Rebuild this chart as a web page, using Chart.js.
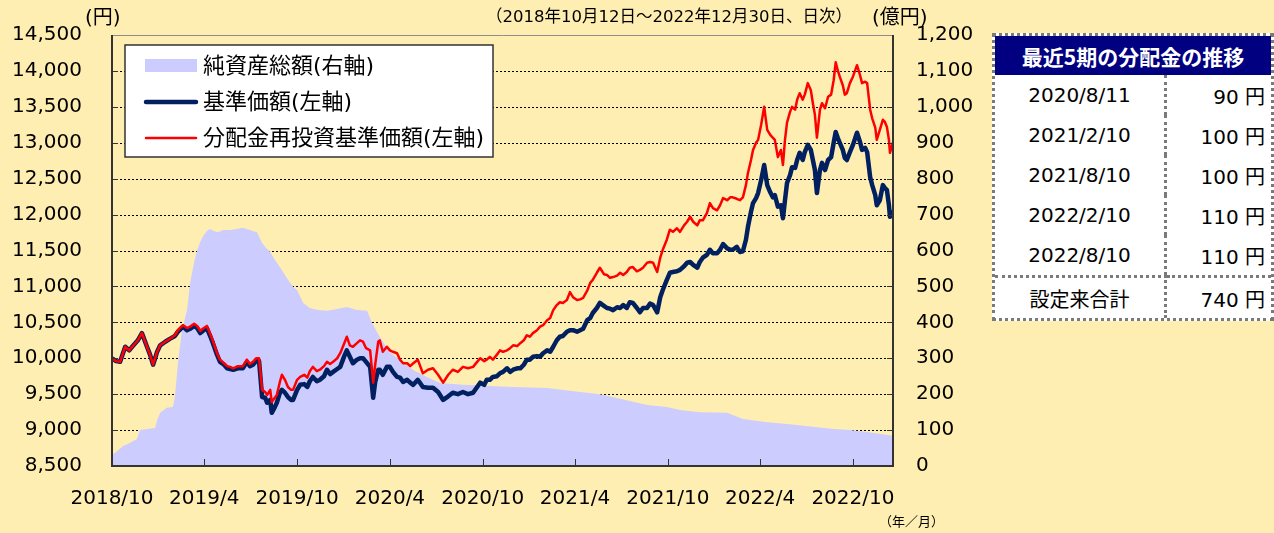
<!DOCTYPE html>
<html lang="ja">
<head>
<meta charset="utf-8">
<script src="https://cdn.jsdelivr.net/npm/chart.js@4.4.1/dist/chart.umd.min.js"></script>
<style>
  html, body { margin: 0; padding: 0; }
  body {
    width: 1274px; height: 533px; position: relative; overflow: hidden;
    background: #FFEEB2;
    font-family: 'DejaVu Sans', 'Noto Sans CJK JP', sans-serif;
    color: #000;
  }
  #chart { position: absolute; left: 0; top: 0; }
  .note { position: absolute; white-space: nowrap; line-height: 1; }
  #dist {
    position: absolute; left: 992px; top: 33px; width: 282px;
    border-collapse: separate; border-spacing: 0; table-layout: fixed;
    border: 3px dotted #7a7a7a; background: #fff;
  }
  #dist th {
    height: 39px; padding: 0; background: #000080; color: #fff;
    font: bold 21px 'Noto Sans CJK JP', sans-serif;
  }
  #dist td { height: 40px; padding: 0; font-size: 20px; }
  #dist td.d { text-align: center; border-right: 3px dotted #7a7a7a; }
  #dist td.v { text-align: right; padding-right: 6px; }
  #dist tr.total td { border-top: 3px dotted #7a7a7a; }
</style>
</head>
<body>
<canvas id="chart" width="1274" height="533"></canvas>
<div class="note" style="left:85px; top:7px; font-size:20px;">(円)</div>
<div class="note" style="left:872px; top:7px; font-size:20px;">(億円)</div>
<div class="note" style="left:486px; top:9px; font-size:16.5px;">（2018年10月12日～2022年12月30日、日次）</div>
<div class="note" style="left:879px; top:514px; font-size:13px; font-family:'Noto Sans CJK JP';">（年／月）</div>
<table id="dist">
  <colgroup><col style="width:172px"><col style="width:104px"></colgroup>
  <thead><tr><th colspan="2">最近5期の分配金の推移</th></tr></thead>
  <tbody id="dist-rows"></tbody>
</table>
<script>
// x positions are calendar days since the launch date 2018/10/12
const launch = Date.UTC(2018, 9, 12)
const dayMs = 86400000
const lastDay = Math.round((Date.UTC(2022, 11, 30) - launch) / dayMs)

// x axis tick labels (every 6 months from the launch day)
const tickLabels = ['2018/10', '2019/4', '2019/10', '2020/4', '2020/10', '2021/4', '2021/10', '2022/4', '2022/10']
const tickDays = tickLabels.map(s => {
  const [y, m] = s.split('/').map(Number)
  return Math.round((Date.UTC(y, m - 1, 12) - launch) / dayMs)
})

// price series (円, left axis)
const priceDays = [
  0, 8, 16, 26, 34, 41, 51, 59, 69, 75,
  81, 89, 95, 105, 114, 124, 130, 140, 148, 154,
  162, 168, 174, 179, 187, 193, 199, 207, 213, 221,
  227, 233, 239, 248, 258, 266, 272, 278, 284, 290,
  296, 302, 306, 312, 315, 321, 325, 331, 335, 341,
  347, 353, 357, 365, 371, 379, 385, 390, 396, 404,
  410, 418, 424, 430, 436, 444, 450, 458, 463, 469,
  475, 483, 489, 495, 501, 509, 515, 519, 525, 528,
  534, 542, 548, 554, 562, 568, 574, 582, 588, 594,
  603, 613, 623, 633, 643, 653, 663, 672, 682, 692,
  702, 712, 720, 726, 734, 739, 745, 751, 759, 765,
  771, 779, 785, 791, 799, 805, 812, 818, 824, 830,
  838, 844, 850, 858, 864, 870, 877, 883, 889, 897,
  903, 909, 917, 923, 929, 937, 943, 948, 956, 962,
  970, 976, 982, 988, 996, 1002, 1008, 1015, 1021, 1027,
  1035, 1041, 1047, 1055, 1061, 1067, 1075, 1081, 1086, 1094,
  1100, 1106, 1114, 1120, 1128, 1134, 1140, 1146, 1154, 1159,
  1165, 1173, 1179, 1185, 1193, 1199, 1205, 1213, 1219, 1224,
  1232, 1238, 1244, 1250, 1254, 1260, 1264, 1270, 1274, 1280,
  1286, 1292, 1298, 1303, 1307, 1313, 1319, 1323, 1327, 1331,
  1337, 1341, 1347, 1351, 1356, 1362, 1366, 1372, 1378, 1382,
  1386, 1390, 1396, 1400, 1406, 1412, 1418, 1423, 1427, 1431,
  1435, 1441, 1445, 1449, 1455, 1461, 1469, 1475, 1479, 1485,
  1489, 1495, 1499, 1505, 1508, 1514, 1520, 1524, 1528, 1532, 1534, 1540
]
// 基準価額
const navPrice = [
  10000, 9960, 9950, 10160, 10110, 10170, 10250, 10350, 10160, 10050,
  9910, 10090, 10180, 10230, 10270, 10310, 10370, 10440, 10390, 10410,
  10450, 10420, 10350, 10380, 10420, 10320, 10210, 10050, 9950, 9910,
  9860, 9850, 9840, 9860, 9860, 9950, 9890, 9910, 9960, 9960,
  9460, 9450, 9380, 9420, 9240, 9320, 9380, 9520, 9560, 9520,
  9460, 9420, 9420, 9560, 9630, 9640, 9600, 9680, 9740, 9680,
  9700, 9750, 9840, 9780, 9810, 9850, 9880, 10030, 10110, 10020,
  9930, 9980, 10000, 10000, 9950, 9880, 9450, 9670, 9840, 9840,
  9770, 9880, 9880, 9810, 9740, 9730, 9670, 9700, 9660, 9630,
  9700, 9600, 9590, 9590, 9530, 9420, 9470, 9520, 9500, 9530,
  9500, 9520, 9600, 9660, 9630, 9700, 9700, 9740, 9750, 9790,
  9810, 9860, 9810, 9840, 9860, 9860, 9910, 9980, 9980, 10020,
  10030, 10020, 10070, 10110, 10090, 10160, 10250, 10300, 10310, 10370,
  10390, 10390, 10370, 10390, 10410, 10530, 10560, 10630, 10700, 10770,
  10730, 10700, 10690, 10670, 10710, 10700, 10740, 10700, 10780, 10770,
  10700, 10640, 10700, 10700, 10760, 10740, 10640, 10850, 10950, 11090,
  11190, 11200, 11210, 11230, 11280, 11330, 11340, 11300, 11260, 11340,
  11400, 11440, 11510, 11460, 11460, 11510, 11590, 11530, 11510, 11510,
  11550, 11480, 11490, 11650, 11830, 12040, 12160, 12230, 12300, 12480,
  12690, 12410, 12310, 12240, 12270, 12110, 12130, 11950, 12200, 12440,
  12550, 12660, 12650, 12760, 12860, 12760, 12870, 12970, 12900, 12760,
  12620, 12300, 12620, 12720, 12620, 12760, 12800, 13000, 13150, 13070,
  13000, 12900, 12790, 12760, 12870, 12970, 13140, 13010, 12900, 12930,
  12870, 12520, 12410, 12270, 12130, 12200, 12410, 12370, 12340, 12130, 11970, 12060
]
// 分配金再投資基準価額
const reinvPrice = [
  10000, 9960, 9950, 10160, 10110, 10170, 10250, 10350, 10160, 10050,
  9910, 10090, 10180, 10230, 10270, 10320, 10390, 10460, 10420, 10440,
  10480, 10450, 10380, 10410, 10450, 10350, 10240, 10070, 9980, 9930,
  9890, 9880, 9860, 9890, 9890, 9980, 9920, 9950, 10000, 10000,
  9560, 9530, 9490, 9560, 9390, 9450, 9490, 9670, 9770, 9700,
  9600, 9560, 9560, 9700, 9740, 9770, 9730, 9820, 9880, 9820,
  9840, 9890, 9950, 9920, 9950, 10000, 10070, 10210, 10300, 10180,
  10160, 10210, 10250, 10230, 10140, 10110, 9660, 9910, 10230, 10250,
  10090, 10160, 10110, 10090, 10070, 9980, 9930, 9930, 9890, 9930,
  9980, 9790, 9840, 9860, 9770, 9660, 9770, 9840, 9810, 9880,
  9860, 9880, 9950, 10000, 9960, 9980, 10020, 9980, 10050, 10110,
  10090, 10110, 10140, 10180, 10170, 10210, 10250, 10320, 10300, 10350,
  10390, 10440, 10460, 10530, 10560, 10670, 10740, 10780, 10770, 10810,
  10920, 10850, 10810, 10820, 10840, 10940, 11050, 11090, 11190, 11260,
  11170, 11160, 11120, 11130, 11150, 11190, 11160, 11200, 11260, 11270,
  11210, 11230, 11260, 11330, 11340, 11330, 11200, 11400, 11510, 11650,
  11790, 11760, 11810, 11760, 11850, 11900, 11970, 11900, 11850, 11920,
  11920, 12020, 12160, 12090, 12060, 12130, 12230, 12200, 12240, 12240,
  12220, 12200, 12240, 12410, 12580, 12760, 12900, 13000, 13040, 13250,
  13500, 13180, 13110, 13070, 13040, 12800, 12900, 12690, 13040, 13280,
  13430, 13500, 13460, 13600, 13690, 13600, 13670, 13830, 13730, 13550,
  13390, 13070, 13460, 13550, 13480, 13640, 13670, 13870, 14120, 14010,
  13920, 13800, 13670, 13690, 13830, 13920, 14080, 13940, 13830, 13850,
  13830, 13460, 13340, 13210, 13040, 13180, 13320, 13290, 13220, 13040, 12860, 13010
]

// 純資産総額 (億円, right axis)
const assetDays = [
  0, 8, 22, 35, 49, 55, 85, 89, 95, 108,
  120, 124, 130, 138, 148, 154, 162, 168, 174, 179,
  187, 193, 201, 209, 219, 233, 246, 258, 272, 286,
  296, 304, 312, 321, 331, 341, 351, 359, 365, 377,
  390, 406, 424, 444, 463, 483, 503, 513, 528, 548,
  568, 594, 621, 647, 692, 745, 791, 858, 923, 962,
  1002, 1055, 1094, 1120, 1159, 1213, 1244, 1292, 1331, 1382,
  1423, 1455, 1489, 1540
]
const netAssets = [
  31, 39, 56, 64, 75, 100, 106, 128, 148, 162,
  164, 192, 287, 379, 434, 510, 568, 601, 624, 638,
  654, 660, 654, 651, 657, 657, 660, 663, 657, 651,
  621, 607, 596, 574, 554, 532, 510, 496, 490, 454,
  440, 434, 432, 437, 443, 434, 432, 398, 359, 317,
  295, 267, 248, 231, 226, 223, 220, 217, 206, 200,
  187, 170, 164, 156, 150, 148, 131, 122, 117, 109,
  103, 100, 95, 84
]

// distribution table
const distDates = ['2020/8/11', '2021/2/10', '2021/8/10', '2022/2/10', '2022/8/10']
const distAmounts = [90, 100, 100, 110, 110]
const totalLabel = '設定来合計'
const totalAmount = 740

const rows = document.getElementById('dist-rows')
distDates.forEach((d, i) => {
  const tr = document.createElement('tr')
  tr.innerHTML = `<td class="d">${d}</td><td class="v">${distAmounts[i]} 円</td>`
  rows.appendChild(tr)
})
const totalRow = document.createElement('tr')
totalRow.className = 'total'
totalRow.innerHTML = `<td class="d" style="font-family:'Noto Sans CJK JP'">${totalLabel}</td><td class="v">${totalAmount} 円</td>`
rows.appendChild(totalRow)

const tickFont = { family: "'DejaVu Sans', 'Noto Sans CJK JP'", size: 20 }
const toPoints = (xs, ys) => xs.map((x, i) => ({ x, y: ys[i] }))

// keep the plot box fixed: no extra room for half labels
const fixBox = (w, h) => s => {
  if (w) s.width = w
  if (h) s.height = h
  s.paddingTop = 0
  s.paddingBottom = 0
  s.paddingLeft = 0
  s.paddingRight = 0
}

// dotted grid lines behind the data
const gridPlugin = {
  id: 'grid',
  beforeDatasetsDraw(chart) {
    const { ctx, chartArea: a, scales } = chart
    ctx.save()
    ctx.strokeStyle = '#000'
    ctx.lineWidth = 1
    ctx.setLineDash([2, 2])
    ctx.beginPath()
    scales.y.ticks.forEach(t => {
      if (t.value <= scales.y.min || t.value >= scales.y.max) return
      const y = Math.round(scales.y.getPixelForValue(t.value)) + 0.5
      ctx.moveTo(a.left, y)
      ctx.lineTo(a.right, y)
    })
    ctx.stroke()
    ctx.restore()
  }
}

// frame, inside tick marks and the legend box drawn over the data
const framePlugin = {
  id: 'frame',
  afterDatasetsDraw(chart) {
    const { ctx, chartArea: a, scales } = chart
    ctx.save()
    ctx.strokeStyle = '#333'
    ctx.lineWidth = 1
    ctx.beginPath()
    scales.y.ticks.forEach(t => {
      const y = Math.round(scales.y.getPixelForValue(t.value)) + 0.5
      ctx.moveTo(a.left, y); ctx.lineTo(a.left + 6, y)
    })
    scales.y1.ticks.forEach(t => {
      const y = Math.round(scales.y1.getPixelForValue(t.value)) + 0.5
      ctx.moveTo(a.right - 6, y); ctx.lineTo(a.right, y)
    })
    scales.x.ticks.forEach(t => {
      const x = Math.round(scales.x.getPixelForValue(t.value)) + 0.5
      ctx.moveTo(x, a.bottom); ctx.lineTo(x, a.bottom - 7)
    })
    ctx.stroke()

    ctx.strokeStyle = '#8c8c8c'
    ctx.beginPath()
    ctx.moveTo(a.left, a.top + 0.5); ctx.lineTo(a.right, a.top + 0.5)
    ctx.stroke()
    ctx.strokeStyle = '#333'
    ctx.lineWidth = 2
    ctx.beginPath()
    ctx.moveTo(a.left, a.top); ctx.lineTo(a.left, a.bottom)
    ctx.lineTo(a.right, a.bottom); ctx.lineTo(a.right, a.top)
    ctx.stroke()

    // legend
    const bx = a.left + 13, by = a.top + 10, bw = 368, bh = 112
    ctx.fillStyle = '#fff'
    ctx.fillRect(bx, by, bw, bh)
    ctx.strokeStyle = '#333'
    ctx.lineWidth = 1.5
    ctx.strokeRect(bx, by, bw, bh)
    const items = [0, 1, 2].map(i => chart.data.datasets[i])
    ctx.textBaseline = 'middle'
    ctx.font = "22px 'DejaVu Sans', 'Noto Sans CJK JP'"
    items.forEach((ds, i) => {
      const cy = by + 21 + i * 36
      if (ds.fill) {
        ctx.fillStyle = ds.backgroundColor
        ctx.fillRect(bx + 20, cy - 7, 52, 13)
      } else {
        ctx.strokeStyle = ds.borderColor
        ctx.lineWidth = ds.borderWidth
        ctx.lineCap = 'round'
        ctx.beginPath()
        ctx.moveTo(bx + 21, cy); ctx.lineTo(bx + 71, cy)
        ctx.stroke()
      }
      ctx.fillStyle = '#000'
      ctx.fillText(ds.label, bx + 78, cy + 1)
    })
    ctx.restore()
  }
}

new Chart(document.getElementById('chart'), {
  type: 'line',
  data: {
    datasets: [
      {
        label: '純資産総額(右軸)',
        data: toPoints(assetDays, netAssets),
        yAxisID: 'y1',
        fill: 'origin',
        backgroundColor: '#CCCCFF',
        borderWidth: 0,
        pointRadius: 0,
        order: 3,
      },
      {
        label: '基準価額(左軸)',
        data: toPoints(priceDays, navPrice),
        yAxisID: 'y',
        fill: false,
        borderColor: '#002060',
        borderWidth: 4.5,
        pointRadius: 0,
        order: 2,
      },
      {
        label: '分配金再投資基準価額(左軸)',
        data: toPoints(priceDays, reinvPrice),
        yAxisID: 'y',
        fill: false,
        borderColor: '#FF0000',
        borderWidth: 2.5,
        pointRadius: 0,
        order: 1,
      },
    ],
  },
  options: {
    responsive: false,
    animation: false,
    layout: { padding: { top: 35, left: 0, right: 0, bottom: 0 } },
    plugins: { legend: { display: false }, tooltip: { enabled: false } },
    elements: { line: { tension: 0, borderJoinStyle: 'round' } },
    scales: {
      x: {
        type: 'linear',
        min: 0,
        max: lastDay,
        grid: { display: false, drawTicks: false },
        border: { display: false },
        afterFit: fixBox(0, 67),
        afterBuildTicks: s => { s.ticks = tickDays.map(v => ({ value: v })) },
        ticks: {
          autoSkip: false,
          maxRotation: 0,
          padding: 21,
          color: '#000',
          font: tickFont,
          callback: v => tickLabels[tickDays.indexOf(v)],
        },
      },
      y: {
        position: 'left',
        min: 8500,
        max: 14500,
        grid: { display: false, drawTicks: false },
        border: { display: false },
        afterFit: fixBox(112, 0),
        ticks: {
          stepSize: 500,
          padding: 30,
          color: '#000',
          font: tickFont,
          callback: v => v.toLocaleString('en-US'),
        },
      },
      y1: {
        position: 'right',
        min: 0,
        max: 1200,
        grid: { display: false, drawTicks: false },
        border: { display: false },
        afterFit: fixBox(381, 0),
        ticks: {
          stepSize: 100,
          padding: 23,
          color: '#000',
          font: tickFont,
          callback: v => v.toLocaleString('en-US'),
        },
      },
    },
  },
  plugins: [gridPlugin, framePlugin],
})
</script>
</body>
</html>
